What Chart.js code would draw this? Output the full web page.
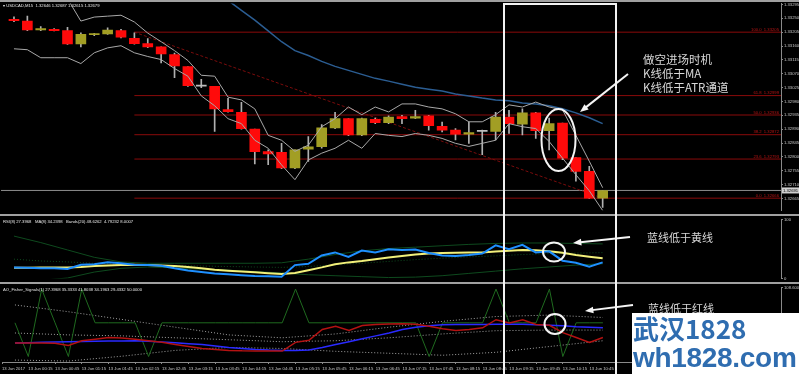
<!DOCTYPE html>
<html lang="zh">
<head>
<meta charset="utf-8">
<title>USDCAD,M15</title>
<script src="https://cdn.jsdelivr.net/npm/chart.js@4.4.1/dist/chart.umd.min.js"></script>
<style>
  html, body { margin: 0; padding: 0; background: #000; }
  #wrap { position: relative; width: 799px; height: 374px; overflow: hidden; background: #000; }
  #wrap canvas { position: absolute; left: 0; }
  .sep { position: absolute; left: 0; width: 799px; height: 2px; background: #a0a0a0; }
  #box { position: absolute; left: 503px; top: 3px; width: 110px; height: 390px; border: 2px solid #f2f2f2; }
  #mark { position: absolute; left: 632px; top: 313px; width: 167px; height: 61px; background: #fff; color: #2f6db0; }
  #mark .a { position: absolute; left: 1px; top: 0px; font: bold 26px "Noto Sans CJK SC", sans-serif; line-height: 30px; }
  #mark .b { position: absolute; left: 1px; top: 30px; font: bold 28px "Liberation Sans", sans-serif; line-height: 30px; letter-spacing: -0.3px; }
</style>
</head>
<body>
<div id="wrap">
  <canvas id="main" width="799" height="214" style="top:0"></canvas>
  <canvas id="rsi" width="799" height="66" style="top:216px"></canvas>
  <canvas id="ao" width="799" height="90" style="top:284px"></canvas>
  <div class="sep" style="top:0"></div>
  <div class="sep" style="top:214px"></div>
  <div class="sep" style="top:282px"></div>
  <div id="box"></div>
  <canvas id="notes" width="799" height="374" style="top:0"></canvas>
  <div id="mark"><div class="a">武汉1828</div><div class="b">wh1828.com</div></div>
</div>

<script>
// USDCAD M15 candles, 13 Jun 2017 00:00 .. 11:00
const opens  = [1.33247,1.33241,1.33212,1.33214,1.33210,1.33167,1.33197,1.33199,1.33210,1.33185,
                1.33168,1.33157,1.33132,1.33093,1.33030,1.33029,1.32954,1.32945,1.32890,1.32817,
                1.32815,1.32764,1.32825,1.32833,1.32894,1.32924,1.32871,1.32922,1.32911,1.32931,
                1.32926,1.32933,1.32899,1.32887,1.32874,1.32883,1.32883,1.32929,1.32906,1.32943,
                1.32885,1.32910,1.32798,1.32753,1.32666];
const highs  = [1.33255,1.33257,1.33223,1.33217,1.33221,1.33203,1.33201,1.33219,1.33214,1.33203,
                1.33184,1.33157,1.33137,1.33093,1.33052,1.33029,1.32990,1.32977,1.32890,1.32823,
                1.32844,1.32823,1.32866,1.32905,1.32945,1.32924,1.32926,1.32926,1.32933,1.32935,
                1.32951,1.32935,1.32913,1.32892,1.32913,1.32887,1.32945,1.32951,1.32956,1.32945,
                1.32926,1.32910,1.32798,1.32769,1.32691];
const lows   = [1.33239,1.33210,1.33210,1.33209,1.33165,1.33157,1.33194,1.33198,1.33186,1.33166,
                1.33155,1.33105,1.33057,1.33029,1.33025,1.32883,1.32945,1.32890,1.32777,1.32775,
                1.32762,1.32762,1.32785,1.32828,1.32892,1.32869,1.32869,1.32908,1.32908,1.32908,
                1.32924,1.32887,1.32881,1.32855,1.32844,1.32807,1.32855,1.32876,1.32871,1.32860,
                1.32823,1.32791,1.32721,1.32665,1.32636];
const closes = [1.33242,1.33212,1.33217,1.33210,1.33167,1.33198,1.33198,1.33212,1.33189,1.33168,
                1.33157,1.33134,1.33095,1.33031,1.33030,1.32956,1.32947,1.32892,1.32817,1.32810,
                1.32764,1.32823,1.32833,1.32894,1.32924,1.32871,1.32924,1.32911,1.32929,1.32924,
                1.32931,1.32901,1.32887,1.32874,1.32879,1.32883,1.32929,1.32908,1.32943,1.32885,
                1.32908,1.32796,1.32753,1.32666,1.32691];

// moving average (only visible from bar 15 on)
const maValues = [null,null,null,null,null,null,null,null,null,null,null,null,null,null,null,
                  1.33321,1.33308,1.33276,1.33244,1.33209,1.33174,1.33145,1.33129,1.33110,1.33094,
                  1.33081,1.33068,1.33055,1.33046,1.33036,1.33026,1.33020,1.33014,1.33004,1.32998,
                  1.32991,1.32985,1.32982,1.32975,1.32972,1.32966,1.32956,1.32943,1.32927,1.32908];

// ATR channel
const atrUpper = [1.33340,1.33337,1.33330,1.33324,1.33314,1.33241,1.33254,1.33257,1.33260,1.33238,
                  1.33202,1.33174,1.33145,1.33113,1.33065,1.33062,1.32994,1.32985,1.32956,1.32870,
                  1.32854,1.32818,1.32838,1.32898,1.32924,1.32962,1.32937,1.32962,1.32946,1.32972,
                  1.32972,1.32962,1.32956,1.32940,1.32914,1.32914,1.32937,1.32969,1.32962,1.32978,
                  1.32962,1.32953,1.32870,1.32786,1.32700];
const atrLower = [1.33151,1.33148,1.33122,1.33122,1.33122,1.33103,1.33138,1.33154,1.33161,1.33138,
                  1.33126,1.33116,1.33087,1.33062,1.32998,1.32966,1.32924,1.32908,1.32854,1.32828,
                  1.32774,1.32726,1.32790,1.32812,1.32828,1.32854,1.32828,1.32876,1.32870,1.32866,
                  1.32876,1.32870,1.32860,1.32844,1.32834,1.32844,1.32854,1.32908,1.32898,1.32892,
                  1.32850,1.32796,1.32742,1.32690,1.32626];

// Fibonacci retracement
const fibLevels = ['0.0', '23.6', '38.2', '50.0', '61.8', '100.0'];
const fibPrices = [1.32666, 1.32793, 1.32872, 1.32936, 1.32999, 1.33205];
const fibStartBar = 9;
const fibEndBar = 44;

const priceTicks = [1.33295,1.33250,1.33205,1.33160,1.33115,1.33070,1.33025,1.32980,
                    1.32935,1.32890,1.32845,1.32800,1.32755,1.32710,1.32665];

// RSI window
const rsiValues = [18.8,18,17.2,17.2,16,23.4,24.2,27.7,25.8,23.4,
                   22.7,21.4,17.2,13.6,10.9,8.3,7,5.5,4.2,3.8,
                   3.1,22.7,25,39,44.2,36.4,47.3,44.2,49.5,48.4,
                   49.2,43.3,39,38.3,39.8,42.2,56.3,49.5,57,44.2,
                   46,30.2,26.6,19.8,27.4];
const rsiMa = [18.3,18.3,18.8,18.8,18.8,19.5,21.1,21.9,22.7,23.4,
               22.7,21.9,21.1,19.5,17.2,14.8,13.3,11.7,10.5,8.9,
               7.8,9.4,14.1,18.8,24.2,27.3,29.7,32.8,35.5,38.3,
               40.6,42.2,43.3,43.8,44,44.2,45.8,46.9,48.4,48,
               46,43.8,39.8,37,34.2];
const bandBars  = [0,2,4,6,8,10,12,14,16,18,20,22,24,26,28,30,32,34,36,38,40,42,44];
const bandUpper = [71.9,60.9,48.4,35.9,28.1,25.8,25.8,25.8,25.8,25.8,26.6,32.8,40.6,46.9,50.8,53.1,55.5,57.8,59.4,60.2,60.2,59.4,58.6];
const bandMid   = [32.8,29.7,28.1,25.8,24.2,22.7,21.9,21.1,20.3,19.5,18.8,20.3,23.4,25.8,28.9,32,34.4,36.7,38.3,40.6,42.2,43,43.8];
const bandLower = [-7.8,-3.1,0.8,10.9,17.2,19.5,18,15.6,14.1,11.7,9.4,6.3,4.7,3.1,1.6,2.3,4.7,8.6,12.5,16.4,19.5,22.7,25];

// signal window
const sigGreen = [50,-6,106,50,-6,106,50,50,50,50,
                  -6,50,50,50,50,50,50,50,50,50,
                  50,106,50,50,50,50,50,50,50,50,
                  50,-6,50,50,50,50,106,50,50,50,
                  106,-6,50,50,50];
const sigRed = [16.5,16.5,16.5,16.2,12.2,20.2,22.7,25.5,24.6,22.7,
                20.2,17.8,13.8,10.6,7.4,5.8,4.2,3.4,3.1,3.1,
                3.1,17.5,21,39,44.3,37.4,45.5,47.1,48,48.4,
                47.5,44.3,40.3,37.4,38.7,41.6,55.1,49.6,55.1,47.1,
                45.9,33.6,25.5,17.5,25.5];
const sigBlue = [16.5,17.0,17.5,18.2,18.6,19.1,19.4,19.8,19.9,20.2,
                 19.4,18.2,17.0,15.4,13.8,11.4,9.0,7.4,5.8,4.7,
                 4.2,4.2,5.0,9.0,13.8,18.6,23.5,28.3,33.1,38.7,
                 42.7,45.1,46.7,47.1,47.1,47.1,47.6,47.6,47.6,46.7,
                 45.9,45.1,43.5,42.7,41.6];
const sigBandBars = [0,4,8,12,16,20,24,28,32,36,40,44];
const sigUpper = [79.7,68.4,55.6,42.7,29.9,25.1,31.5,42.7,52.4,60.4,62.8,58.8];
const sigMid   = [33.1,29.9,28.3,25.1,21.9,18.6,20.2,25.1,31.5,36.9,37.9,37.9];
const sigLower = [-11.9,-13.5,-5.5,4.2,9.0,7.4,2.6,-0.6,-3.9,1.0,10.6,20.2];

const timeBars = [0,1,3,5,7,9,11,13,15,17,19,21,23,25,27,29,31,33,35,37,39,41,43];
const timeLabels = ['13 Jun 2017','13 Jun 00:15','13 Jun 00:45','13 Jun 01:15','13 Jun 01:45','13 Jun 02:15',
                    '13 Jun 02:45','13 Jun 03:15','13 Jun 03:45','13 Jun 04:15','13 Jun 04:45','13 Jun 05:15',
                    '13 Jun 05:45','13 Jun 06:15','13 Jun 06:45','13 Jun 07:15','13 Jun 07:45','13 Jun 08:15',
                    '13 Jun 08:45','13 Jun 09:15','13 Jun 09:45','13 Jun 10:15','13 Jun 10:45'];

// ---------------------------------------------------------------
const X_MIN = -0.97, X_MAX = 57.33;
const AXIS_W = 18;
const tiny = '4.2px "Liberation Sans"';
const axisText = '#c8c8c8';

function pts(xs, ys) { return ys.map((y, i) => ({ x: xs ? xs[i] : i, y: y })); }
function line(data, color, extra) {
  return Object.assign({ type: 'line', data: data, borderColor: color, borderWidth: 1,
                         pointRadius: 0, tension: 0, fill: false, spanGaps: false }, extra || {});
}
function rightAxis(min, max, ticks, fmt) {
  return {
    position: 'right', min: min, max: max,
    afterFit: s => { s.width = AXIS_W; },
    afterBuildTicks: s => { s.ticks = ticks.map(v => ({ value: v })); },
    ticks: { color: axisText, font: { family: 'Liberation Sans', size: 4.2 }, padding: 1, callback: fmt },
    grid: { drawOnChartArea: false, tickLength: 2, color: '#8a8a8a' },
    border: { color: '#8a8a8a' }
  };
}
function titlePlugin(text) {
  return { id: 't' + text.length, afterDraw(c) {
    const ctx = c.ctx; ctx.save(); ctx.font = tiny; ctx.fillStyle = '#e6e6e6';
    ctx.textBaseline = 'top'; ctx.fillText(text, 3, 3.5); ctx.restore(); } };
}
const base = { responsive: false, animation: false, devicePixelRatio: 1,
               plugins: { legend: { display: false }, tooltip: { enabled: false } } };

// ---------- main price chart ----------
const bodyColors = opens.map((o, i) => closes[i] > o ? '#a29e24' : (closes[i] < o ? '#ff0a0a' : '#bdbdbd'));
const last = closes[closes.length - 1];

const fibSets = fibPrices.map(p => line([{ x: fibStartBar, y: p }, { x: X_MAX, y: p }], '#8a0a0a', { order: 5 }));

new Chart(document.getElementById('main'), {
  type: 'line',
  data: { datasets: [
    line(pts(null, atrUpper), '#a8a8a8', { order: 1 }),
    line(pts(null, atrLower), '#a8a8a8', { order: 1 }),
    line(pts(null, maValues), '#2b5d92', { order: 1, borderWidth: 1.5 }),
    { type: 'bar', order: 2, grouped: false, barThickness: 10, minBarLength: 1,
      data: opens.map((o, i) => ({ x: i, y: [o, closes[i]] })), backgroundColor: bodyColors },
    { type: 'bar', order: 3, grouped: false, barThickness: 1,
      data: opens.map((o, i) => ({ x: i, y: [lows[i], highs[i]] })), backgroundColor: '#b0b0b0' },
    line([{ x: fibStartBar, y: fibPrices[5] }, { x: fibEndBar, y: fibPrices[0] }], '#7a0c0c', { order: 4, borderDash: [3, 2] }),
    ...fibSets,
    line([{ x: X_MIN, y: last }, { x: X_MAX, y: last }], '#8c8c8c', { order: 6 })
  ] },
  options: Object.assign({}, base, {
    layout: { padding: { left: 1, right: 0, top: 3, bottom: 1 } },
    scales: {
      x: { type: 'linear', min: X_MIN, max: X_MAX, display: false, offset: false },
      y: rightAxis(1.32626, 1.33298, priceTicks, v => v.toFixed(5))
    }
  }),
  plugins: [titlePlugin('\u25BE USDCAD,M15  1.32646 1.32687 1.32615 1.32679'), {
    id: 'fibAndPrice', afterDraw(c) {
      const ctx = c.ctx, y = c.scales.y, a = c.chartArea;
      ctx.save(); ctx.font = tiny; ctx.textBaseline = 'bottom'; ctx.textAlign = 'right';
      ctx.fillStyle = '#b81414';
      fibPrices.forEach((p, i) => ctx.fillText(fibLevels[i] + '  ' + p.toFixed(5), a.right - 2, y.getPixelForValue(p) - 0.5));
      const py = y.getPixelForValue(last);
      ctx.fillStyle = '#d0d0d0'; ctx.fillRect(a.right + 1, py - 3, AXIS_W - 1, 6);
      ctx.fillStyle = '#000'; ctx.textAlign = 'left'; ctx.textBaseline = 'middle';
      ctx.fillText(last.toFixed(5), a.right + 2, py);
      ctx.restore();
    } }]
});

// ---------- RSI window ----------
new Chart(document.getElementById('rsi'), {
  type: 'line',
  data: { datasets: [
    line(pts(null, rsiValues), '#1e8fff', { borderWidth: 2 }),
    line(pts(null, rsiMa), '#f2f07a', { borderWidth: 2 }),
    line(pts(bandBars, bandUpper), '#0e4a1e'),
    line(pts(bandBars, bandMid), '#0e4a1e', { borderDash: [1, 2] }),
    line(pts(bandBars, bandLower), '#0e4a1e')
  ] },
  options: Object.assign({}, base, {
    layout: { padding: { left: 1, right: 0, top: 1, bottom: 1 } },
    scales: {
      x: { type: 'linear', min: X_MIN, max: X_MAX, display: false, offset: false },
      y: rightAxis(0, 100, [100, 0], v => String(v))
    }
  }),
  plugins: [titlePlugin('RSI(8) 27.3968   MA(8) 34.2398   Bands(20) 48.6262  4.79232 8.0007')]
});

// ---------- signal window ----------
new Chart(document.getElementById('ao'), {
  type: 'line',
  data: { datasets: [
    line(pts(null, sigRed), '#b41212', { borderWidth: 1.5 }),
    line(pts(null, sigBlue), '#2a2aff', { borderWidth: 1.5 }),
    line(pts(null, sigGreen), '#1f6a1f'),
    line(pts(sigBandBars, sigUpper), '#a0a0a0', { borderDash: [1, 2] }),
    line(pts(sigBandBars, sigMid), '#a0a0a0', { borderDash: [1, 2] }),
    line(pts(sigBandBars, sigLower), '#a0a0a0', { borderDash: [1, 2] })
  ] },
  options: Object.assign({}, base, {
    layout: { padding: { left: 1, right: 0, top: 1, bottom: 0 } },
    scales: {
      x: { type: 'linear', min: X_MIN, max: X_MAX, offset: false,
           afterFit: s => { s.height = 12; },
           afterBuildTicks: s => { s.ticks = timeBars.map((b, i) => ({ value: i === 0 ? s.min : b })); },
           ticks: { autoSkip: false, maxRotation: 0, align: 'start', padding: 2, color: axisText,
                    font: { family: 'Liberation Sans', size: 4.2 },
                    callback: (v, i) => timeLabels[i] },
           grid: { drawOnChartArea: false, tickLength: 2, color: '#8a8a8a' },
           border: { color: '#8a8a8a' } },
      y: rightAxis(-15.1, 108.6, [108.6], v => v.toFixed(4))
    }
  }),
  plugins: [titlePlugin('AO_Fisher_Signals(1) 27.3968 35.3333 41.8038 34.1963 29.4332 50.0000')]
});

// ---------- hand-drawn notes ----------
(function () {
  const ctx = document.getElementById('notes').getContext('2d');
  ctx.strokeStyle = '#f4f4f4'; ctx.fillStyle = '#f4f4f4'; ctx.lineWidth = 2;
  function oval(cx, cy, rx, ry) { ctx.beginPath(); ctx.ellipse(cx, cy, rx, ry, 0, 0, Math.PI * 2); ctx.stroke(); }
  function arrow(x1, y1, x2, y2) {
    const ang = Math.atan2(y2 - y1, x2 - x1), h = 9;
    ctx.beginPath(); ctx.moveTo(x1, y1); ctx.lineTo(x2 - Math.cos(ang) * 5, y2 - Math.sin(ang) * 5); ctx.stroke();
    ctx.beginPath(); ctx.moveTo(x2, y2);
    ctx.lineTo(x2 - h * Math.cos(ang - 0.38), y2 - h * Math.sin(ang - 0.38));
    ctx.lineTo(x2 - h * Math.cos(ang + 0.38), y2 - h * Math.sin(ang + 0.38));
    ctx.closePath(); ctx.fill();
  }
  oval(558.5, 140, 17, 31);
  arrow(628, 74, 580, 112);
  oval(554, 252, 11, 9.5);
  arrow(630, 237, 573, 243);
  oval(555, 324, 10.5, 10);
  arrow(633, 305, 585, 311);

  ctx.fillStyle = '#d8d8d8'; ctx.font = '11.5px "Noto Sans CJK SC"'; ctx.textBaseline = 'middle';
  ctx.fillText('做空进场时机', 643, 60);
  ctx.fillText('K线低于MA', 643, 74);
  ctx.fillText('K线低于ATR通道', 643, 88);
  ctx.font = '11px "Noto Sans CJK SC"';
  ctx.fillText('蓝线低于黄线', 647, 238);
  ctx.fillText('蓝线低于红线', 648, 309);
})();
</script>
</body>
</html>
